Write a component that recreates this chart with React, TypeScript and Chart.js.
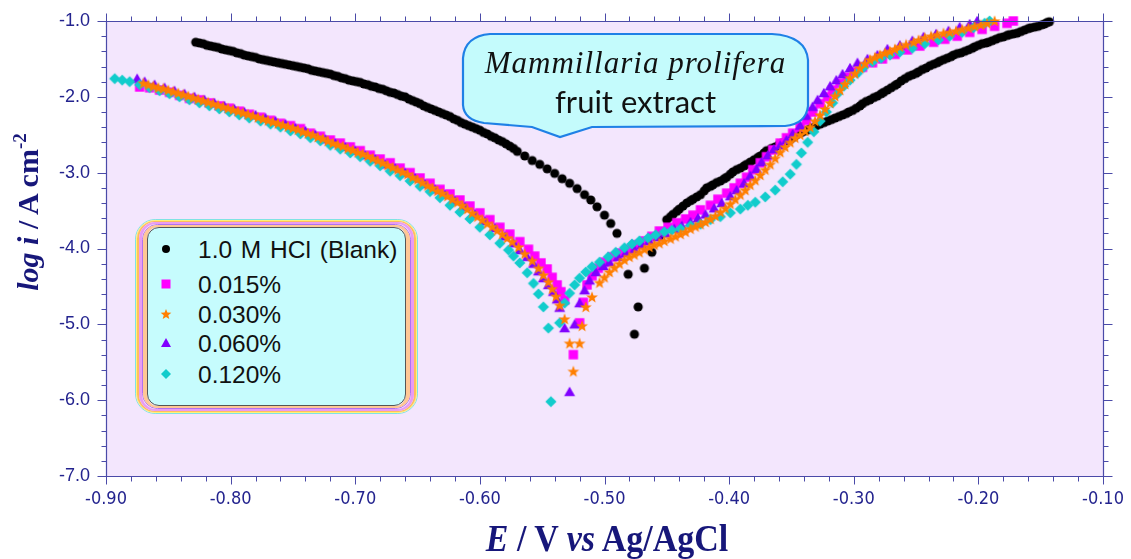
import React, { useEffect, useRef } from 'react';
import { Chart, registerables } from 'chart.js';

Chart.register(...registerables);

// ---------- axis / tick data ----------
const X_TICKS = [-0.9, -0.8, -0.7, -0.6, -0.5, -0.4, -0.3, -0.2, -0.1];
const Y_TICKS = [-7, -6, -5, -4, -3, -2, -1];
const X_RANGE = [-0.9, -0.1];
const Y_RANGE = [-7, -1];

const SERIES_LABELS = ['1.0 M HCl (Blank)', '0.015%', '0.030%', '0.060%', '0.120%'];
const SERIES_COLORS = ['#000000', '#ff00ff', '#ff7f00', '#8000ff', '#11cccc'];

// ---------- series: [E (V vs Ag/AgCl), log i (A cm-2)] ----------
const blank: [number, number][] = [
  [-0.828, -1.28], [-0.825, -1.29], [-0.822, -1.30], [-0.819, -1.32], [-0.816, -1.33], [-0.813, -1.34],
  [-0.810, -1.35], [-0.807, -1.37], [-0.804, -1.38], [-0.801, -1.39], [-0.798, -1.40], [-0.795, -1.42],
  [-0.792, -1.43], [-0.789, -1.45], [-0.786, -1.46], [-0.783, -1.47], [-0.780, -1.48], [-0.777, -1.50],
  [-0.774, -1.51], [-0.771, -1.52], [-0.768, -1.53], [-0.765, -1.54], [-0.762, -1.55], [-0.759, -1.56],
  [-0.756, -1.57], [-0.753, -1.58], [-0.750, -1.59], [-0.747, -1.60], [-0.744, -1.61], [-0.741, -1.62],
  [-0.738, -1.63], [-0.735, -1.65], [-0.732, -1.66], [-0.729, -1.67], [-0.726, -1.68], [-0.723, -1.69],
  [-0.720, -1.70], [-0.717, -1.72], [-0.714, -1.73], [-0.711, -1.75], [-0.708, -1.76], [-0.705, -1.78],
  [-0.702, -1.79], [-0.699, -1.80], [-0.696, -1.81], [-0.693, -1.83], [-0.690, -1.84], [-0.687, -1.86],
  [-0.684, -1.87], [-0.681, -1.89], [-0.678, -1.90], [-0.675, -1.92], [-0.672, -1.94], [-0.669, -1.95],
  [-0.666, -1.97], [-0.663, -1.99], [-0.660, -2.00], [-0.657, -2.03], [-0.654, -2.05], [-0.651, -2.07],
  [-0.648, -2.09], [-0.645, -2.12], [-0.642, -2.14], [-0.639, -2.16], [-0.636, -2.18], [-0.633, -2.20],
  [-0.630, -2.22], [-0.627, -2.24], [-0.624, -2.26], [-0.621, -2.29], [-0.618, -2.31], [-0.615, -2.34],
  [-0.612, -2.36], [-0.609, -2.38], [-0.606, -2.40], [-0.603, -2.42], [-0.600, -2.44], [-0.597, -2.47],
  [-0.594, -2.49], [-0.591, -2.52], [-0.588, -2.54], [-0.585, -2.57], [-0.582, -2.59], [-0.579, -2.62],
  [-0.576, -2.65], [-0.573, -2.68], [-0.570, -2.72], [-0.564, -2.78], [-0.558, -2.84], [-0.552, -2.89],
  [-0.546, -2.95], [-0.540, -3.01], [-0.534, -3.08], [-0.528, -3.14], [-0.522, -3.21], [-0.516, -3.29],
  [-0.511, -3.36], [-0.506, -3.45], [-0.500, -3.56], [-0.495, -3.67], [-0.490, -3.80], [-0.481, -4.34],
  [-0.476, -5.13], [-0.473, -4.77], [-0.468, -4.26], [-0.462, -4.05], [-0.456, -3.84], [-0.450, -3.62],
  [-0.447, -3.58], [-0.445, -3.55], [-0.442, -3.51], [-0.440, -3.48], [-0.437, -3.44], [-0.434, -3.40],
  [-0.431, -3.37], [-0.429, -3.35], [-0.426, -3.32], [-0.423, -3.29], [-0.420, -3.24], [-0.418, -3.20],
  [-0.415, -3.18], [-0.413, -3.16], [-0.410, -3.13], [-0.407, -3.11], [-0.404, -3.08], [-0.402, -3.06],
  [-0.399, -3.02], [-0.397, -2.99], [-0.394, -2.96], [-0.391, -2.94], [-0.388, -2.91], [-0.386, -2.89],
  [-0.383, -2.86], [-0.380, -2.83], [-0.377, -2.80], [-0.375, -2.78], [-0.372, -2.74], [-0.370, -2.71],
  [-0.366, -2.68], [-0.363, -2.66], [-0.360, -2.63], [-0.358, -2.61], [-0.354, -2.58], [-0.351, -2.56],
  [-0.348, -2.53], [-0.346, -2.50], [-0.342, -2.47], [-0.339, -2.45], [-0.336, -2.43], [-0.334, -2.41],
  [-0.330, -2.38], [-0.327, -2.36], [-0.324, -2.34], [-0.321, -2.32], [-0.318, -2.30], [-0.315, -2.28],
  [-0.312, -2.26], [-0.309, -2.24], [-0.306, -2.22], [-0.304, -2.20], [-0.301, -2.18], [-0.298, -2.15],
  [-0.295, -2.12], [-0.293, -2.09], [-0.290, -2.06], [-0.287, -2.04], [-0.284, -2.01], [-0.281, -1.99],
  [-0.278, -1.96], [-0.276, -1.94], [-0.273, -1.91], [-0.270, -1.88], [-0.267, -1.85], [-0.265, -1.83],
  [-0.262, -1.79], [-0.259, -1.76], [-0.256, -1.73], [-0.253, -1.71], [-0.250, -1.69], [-0.248, -1.67],
  [-0.245, -1.64], [-0.242, -1.62], [-0.239, -1.59], [-0.236, -1.57], [-0.233, -1.55], [-0.231, -1.53],
  [-0.228, -1.51], [-0.225, -1.49], [-0.222, -1.47], [-0.220, -1.45], [-0.217, -1.43], [-0.214, -1.42],
  [-0.211, -1.40], [-0.208, -1.38], [-0.205, -1.36], [-0.203, -1.34], [-0.200, -1.32], [-0.197, -1.30],
  [-0.194, -1.29], [-0.192, -1.28], [-0.189, -1.26], [-0.186, -1.24], [-0.183, -1.22], [-0.180, -1.21],
  [-0.177, -1.19], [-0.175, -1.18], [-0.172, -1.17], [-0.169, -1.16], [-0.166, -1.14], [-0.163, -1.12],
  [-0.160, -1.10], [-0.158, -1.09], [-0.155, -1.08], [-0.152, -1.07], [-0.149, -1.05], [-0.147, -1.04],
  [-0.145, -1.02], [-0.143, -1.01],
];

const c015: [number, number][] = [
  [-0.873, -1.87], [-0.865, -1.88], [-0.857, -1.91], [-0.849, -1.94], [-0.841, -1.98], [-0.833, -2.02],
  [-0.825, -2.04], [-0.817, -2.08], [-0.809, -2.12], [-0.801, -2.15], [-0.793, -2.19], [-0.785, -2.23],
  [-0.776, -2.27], [-0.768, -2.31], [-0.760, -2.35], [-0.752, -2.38], [-0.744, -2.42], [-0.736, -2.48],
  [-0.728, -2.52], [-0.720, -2.57], [-0.712, -2.61], [-0.704, -2.66], [-0.696, -2.71], [-0.688, -2.77],
  [-0.680, -2.82], [-0.672, -2.87], [-0.664, -2.94], [-0.656, -3.00], [-0.648, -3.07], [-0.640, -3.14],
  [-0.632, -3.22], [-0.624, -3.28], [-0.616, -3.36], [-0.608, -3.44], [-0.600, -3.53], [-0.592, -3.62],
  [-0.584, -3.72], [-0.576, -3.81], [-0.568, -3.91], [-0.561, -4.01], [-0.556, -4.10], [-0.551, -4.19],
  [-0.546, -4.27], [-0.542, -4.38], [-0.538, -4.48], [-0.535, -4.57], [-0.532, -4.68], [-0.525, -5.40],
  [-0.520, -4.98], [-0.517, -4.71], [-0.514, -4.48], [-0.510, -4.36], [-0.505, -4.26], [-0.500, -4.18],
  [-0.494, -4.11], [-0.488, -4.06], [-0.481, -4.01], [-0.475, -3.95], [-0.468, -3.90], [-0.462, -3.84],
  [-0.456, -3.77], [-0.449, -3.72], [-0.442, -3.66], [-0.435, -3.61], [-0.429, -3.56], [-0.423, -3.49],
  [-0.415, -3.43], [-0.409, -3.35], [-0.402, -3.27], [-0.396, -3.20], [-0.391, -3.14], [-0.386, -3.06],
  [-0.381, -2.96], [-0.375, -2.87], [-0.370, -2.79], [-0.365, -2.70], [-0.359, -2.61], [-0.354, -2.54],
  [-0.349, -2.48], [-0.343, -2.40], [-0.338, -2.31], [-0.333, -2.20], [-0.327, -2.09], [-0.321, -2.00],
  [-0.317, -1.91], [-0.311, -1.82], [-0.305, -1.74], [-0.299, -1.67], [-0.293, -1.61], [-0.285, -1.55],
  [-0.277, -1.50], [-0.267, -1.44], [-0.257, -1.38], [-0.247, -1.33], [-0.236, -1.28], [-0.227, -1.24],
  [-0.217, -1.20], [-0.207, -1.15], [-0.197, -1.11], [-0.187, -1.07], [-0.177, -1.03], [-0.172, -1.00],
];

const c030: [number, number][] = [
  [-0.870, -1.82], [-0.866, -1.84], [-0.862, -1.86], [-0.858, -1.88], [-0.854, -1.89], [-0.850, -1.91],
  [-0.846, -1.93], [-0.842, -1.95], [-0.838, -1.97], [-0.834, -1.99], [-0.830, -2.01], [-0.826, -2.03],
  [-0.822, -2.05], [-0.818, -2.07], [-0.814, -2.09], [-0.810, -2.11], [-0.806, -2.13], [-0.802, -2.15],
  [-0.798, -2.17], [-0.794, -2.19], [-0.790, -2.21], [-0.786, -2.23], [-0.782, -2.25], [-0.778, -2.27],
  [-0.774, -2.29], [-0.770, -2.31], [-0.766, -2.33], [-0.762, -2.35], [-0.758, -2.37], [-0.754, -2.39],
  [-0.750, -2.41], [-0.746, -2.43], [-0.742, -2.46], [-0.738, -2.48], [-0.734, -2.50], [-0.730, -2.53],
  [-0.726, -2.55], [-0.722, -2.58], [-0.718, -2.61], [-0.714, -2.63], [-0.710, -2.65], [-0.706, -2.68],
  [-0.702, -2.70], [-0.698, -2.73], [-0.694, -2.75], [-0.690, -2.78], [-0.686, -2.81], [-0.682, -2.84],
  [-0.678, -2.87], [-0.674, -2.90], [-0.670, -2.93], [-0.666, -2.96], [-0.662, -2.99], [-0.658, -3.02],
  [-0.654, -3.06], [-0.650, -3.09], [-0.646, -3.13], [-0.642, -3.17], [-0.638, -3.20], [-0.634, -3.24],
  [-0.630, -3.27], [-0.626, -3.31], [-0.622, -3.35], [-0.618, -3.39], [-0.614, -3.43], [-0.610, -3.48],
  [-0.606, -3.53], [-0.602, -3.58], [-0.598, -3.62], [-0.594, -3.67], [-0.590, -3.71], [-0.586, -3.76],
  [-0.582, -3.81], [-0.578, -3.86], [-0.574, -3.91], [-0.569, -3.98], [-0.564, -4.07], [-0.558, -4.16],
  [-0.553, -4.26], [-0.549, -4.35], [-0.545, -4.44], [-0.542, -4.53], [-0.539, -4.63], [-0.536, -4.75],
  [-0.532, -4.93], [-0.528, -5.25], [-0.525, -5.62], [-0.520, -5.25], [-0.518, -5.02], [-0.515, -4.77],
  [-0.510, -4.64], [-0.504, -4.45], [-0.500, -4.38], [-0.496, -4.31], [-0.492, -4.25], [-0.488, -4.20],
  [-0.484, -4.15], [-0.480, -4.11], [-0.476, -4.08], [-0.472, -4.05], [-0.468, -4.01], [-0.464, -3.98],
  [-0.460, -3.95], [-0.456, -3.93], [-0.452, -3.90], [-0.447, -3.87], [-0.443, -3.84], [-0.439, -3.81],
  [-0.435, -3.78], [-0.431, -3.74], [-0.427, -3.71], [-0.423, -3.68], [-0.419, -3.65], [-0.415, -3.61],
  [-0.411, -3.57], [-0.407, -3.52], [-0.403, -3.47], [-0.399, -3.41], [-0.395, -3.35], [-0.391, -3.29],
  [-0.387, -3.23], [-0.383, -3.16], [-0.379, -3.10], [-0.375, -3.03], [-0.371, -2.96], [-0.367, -2.89],
  [-0.363, -2.81], [-0.359, -2.73], [-0.355, -2.66], [-0.351, -2.60], [-0.347, -2.54], [-0.343, -2.50],
  [-0.339, -2.45], [-0.335, -2.40], [-0.331, -2.32], [-0.327, -2.24], [-0.323, -2.16], [-0.319, -2.08],
  [-0.315, -1.99], [-0.311, -1.91], [-0.307, -1.83], [-0.303, -1.75], [-0.299, -1.69], [-0.295, -1.62],
  [-0.291, -1.56], [-0.287, -1.51], [-0.283, -1.48], [-0.279, -1.45], [-0.275, -1.42], [-0.271, -1.40],
  [-0.267, -1.37], [-0.263, -1.34], [-0.258, -1.31], [-0.252, -1.28], [-0.248, -1.25], [-0.243, -1.22],
  [-0.238, -1.20], [-0.233, -1.18], [-0.228, -1.16], [-0.223, -1.15], [-0.218, -1.13], [-0.213, -1.11],
  [-0.208, -1.09], [-0.203, -1.07], [-0.198, -1.05], [-0.193, -1.03], [-0.187, -1.00],
];

const c060: [number, number][] = [
  [-0.875, -1.76], [-0.869, -1.80], [-0.861, -1.84], [-0.853, -1.88], [-0.845, -1.92], [-0.837, -1.96],
  [-0.829, -2.00], [-0.821, -2.04], [-0.813, -2.08], [-0.805, -2.12], [-0.797, -2.16], [-0.789, -2.20],
  [-0.780, -2.24], [-0.772, -2.28], [-0.764, -2.32], [-0.756, -2.36], [-0.748, -2.41], [-0.740, -2.45],
  [-0.732, -2.50], [-0.724, -2.56], [-0.716, -2.61], [-0.708, -2.66], [-0.700, -2.71], [-0.692, -2.77],
  [-0.684, -2.82], [-0.676, -2.89], [-0.668, -2.94], [-0.660, -3.00], [-0.652, -3.07], [-0.644, -3.15],
  [-0.636, -3.22], [-0.628, -3.29], [-0.620, -3.37], [-0.612, -3.45], [-0.604, -3.55], [-0.596, -3.64],
  [-0.588, -3.73], [-0.580, -3.84], [-0.573, -3.93], [-0.568, -4.02], [-0.562, -4.11], [-0.557, -4.20],
  [-0.553, -4.30], [-0.549, -4.39], [-0.545, -4.48], [-0.541, -4.57], [-0.538, -4.67], [-0.536, -4.78],
  [-0.532, -5.05], [-0.528, -5.89], [-0.524, -5.00], [-0.520, -4.72], [-0.516, -4.55], [-0.512, -4.42],
  [-0.507, -4.31], [-0.501, -4.23], [-0.496, -4.18], [-0.489, -4.11], [-0.483, -4.06], [-0.476, -4.01],
  [-0.470, -3.95], [-0.464, -3.90], [-0.457, -3.85], [-0.451, -3.80], [-0.444, -3.74], [-0.438, -3.70],
  [-0.431, -3.65], [-0.425, -3.60], [-0.419, -3.55], [-0.412, -3.47], [-0.406, -3.40], [-0.399, -3.31],
  [-0.394, -3.23], [-0.388, -3.14], [-0.383, -3.04], [-0.378, -2.95], [-0.374, -2.86], [-0.369, -2.77],
  [-0.364, -2.69], [-0.359, -2.64], [-0.354, -2.57], [-0.349, -2.49], [-0.343, -2.38], [-0.338, -2.25],
  [-0.333, -2.13], [-0.329, -2.04], [-0.324, -1.95], [-0.319, -1.86], [-0.314, -1.78], [-0.309, -1.70],
  [-0.303, -1.62], [-0.297, -1.55], [-0.289, -1.50], [-0.281, -1.45], [-0.273, -1.37], [-0.263, -1.32],
  [-0.253, -1.26], [-0.244, -1.21], [-0.234, -1.17], [-0.224, -1.13], [-0.215, -1.08], [-0.207, -1.04],
  [-0.201, -1.00],
];

const c120: [number, number][] = [
  [-0.893, -1.76], [-0.887, -1.78], [-0.881, -1.80], [-0.873, -1.84], [-0.865, -1.88], [-0.857, -1.92],
  [-0.849, -1.96], [-0.841, -2.00], [-0.833, -2.04], [-0.825, -2.08], [-0.817, -2.12], [-0.809, -2.16],
  [-0.801, -2.20], [-0.793, -2.24], [-0.785, -2.28], [-0.776, -2.32], [-0.768, -2.36], [-0.760, -2.40],
  [-0.752, -2.45], [-0.744, -2.49], [-0.736, -2.54], [-0.728, -2.58], [-0.720, -2.64], [-0.712, -2.69],
  [-0.704, -2.74], [-0.696, -2.79], [-0.688, -2.85], [-0.680, -2.91], [-0.672, -2.98], [-0.664, -3.04],
  [-0.656, -3.11], [-0.648, -3.18], [-0.640, -3.25], [-0.632, -3.33], [-0.624, -3.43], [-0.616, -3.52],
  [-0.608, -3.61], [-0.600, -3.72], [-0.592, -3.82], [-0.584, -3.93], [-0.577, -4.02], [-0.573, -4.10],
  [-0.568, -4.19], [-0.562, -4.32], [-0.557, -4.46], [-0.553, -4.60], [-0.549, -4.77], [-0.545, -5.05],
  [-0.543, -6.02], [-0.536, -4.98], [-0.532, -4.72], [-0.528, -4.59], [-0.524, -4.48], [-0.520, -4.39],
  [-0.515, -4.31], [-0.510, -4.24], [-0.504, -4.18], [-0.497, -4.11], [-0.491, -4.05], [-0.484, -3.99],
  [-0.478, -3.94], [-0.472, -3.90], [-0.465, -3.86], [-0.459, -3.82], [-0.452, -3.78], [-0.446, -3.76],
  [-0.439, -3.74], [-0.431, -3.70], [-0.423, -3.68], [-0.415, -3.62], [-0.407, -3.58], [-0.399, -3.53],
  [-0.391, -3.48], [-0.385, -3.43], [-0.379, -3.39], [-0.371, -3.32], [-0.363, -3.23], [-0.357, -3.12],
  [-0.351, -3.02], [-0.346, -2.89], [-0.342, -2.74], [-0.337, -2.60], [-0.332, -2.46], [-0.327, -2.32],
  [-0.322, -2.20], [-0.317, -2.08], [-0.313, -1.96], [-0.308, -1.86], [-0.303, -1.78], [-0.297, -1.69],
  [-0.292, -1.61], [-0.285, -1.54], [-0.278, -1.49], [-0.271, -1.45], [-0.263, -1.41], [-0.253, -1.36],
  [-0.243, -1.30], [-0.232, -1.25], [-0.223, -1.20], [-0.213, -1.15], [-0.204, -1.09], [-0.195, -1.03],
  [-0.191, -1.00],
];

// ---------- styling ----------
const PLOT_BG = '#f3e6fd';
const AXIS_COLOR = '#4a4aa8';
const TICK_LABEL_COLOR = '#23238e';
const TITLE_COLOR = '#17177a';

function starPath(g: CanvasRenderingContext2D | null, cx: number, cy: number, R: number, r: number) {
  const pts: [number, number][] = [];
  for (let i = 0; i < 10; i++) {
    const a = -Math.PI / 2 + (i * Math.PI) / 5;
    const rad = i % 2 === 0 ? R : r;
    pts.push([cx + rad * Math.cos(a), cy + rad * Math.sin(a)]);
  }
  if (g) {
    g.moveTo(pts[0][0], pts[0][1]);
    for (let i = 1; i < pts.length; i++) g.lineTo(pts[i][0], pts[i][1]);
    g.closePath();
  }
  return pts;
}

function markerCanvas(kind: string, color: string): HTMLCanvasElement {
  const s = 14;
  const c = document.createElement('canvas');
  c.width = s;
  c.height = s;
  const g = c.getContext('2d')!;
  g.fillStyle = color;
  const m = s / 2;
  g.beginPath();
  if (kind === 'circle') g.arc(m, m, 4.6, 0, Math.PI * 2);
  else if (kind === 'square') g.rect(m - 4.7, m - 4.7, 9.4, 9.4);
  else if (kind === 'star') starPath(g, m, m + 0.5, 6.2, 2.6);
  else if (kind === 'triangle') {
    g.moveTo(m, m - 5.3);
    g.lineTo(m + 5.5, m + 4.3);
    g.lineTo(m - 5.5, m + 4.3);
    g.closePath();
  } else {
    g.moveTo(m, m - 5.6);
    g.lineTo(m + 5.6, m);
    g.lineTo(m, m + 5.6);
    g.lineTo(m - 5.6, m);
    g.closePath();
  }
  g.fill();
  return c;
}

const MARKER_KINDS = ['circle', 'square', 'star', 'triangle', 'diamond'];
const SERIES_DATA = [blank, c015, c030, c060, c120];
const DRAW_ORDER = [5, 4, 1, 3, 2]; // lower = drawn on top

const framePlugin = {
  id: 'frame',
  beforeDatasetsDraw(chart: any) {
    const { ctx, chartArea: a } = chart;
    ctx.save();
    ctx.fillStyle = PLOT_BG;
    ctx.fillRect(a.left, a.top, a.right - a.left, a.bottom - a.top);
    ctx.restore();
  },
  afterDatasetsDraw(chart: any) {
    const { ctx, chartArea: a, scales } = chart;
    const xs = scales.x;
    const ys = scales.y;
    const L = Math.round(a.left) + 0.5;
    const R = Math.round(a.right) + 0.5;
    const T = Math.round(a.top) + 0.5;
    const B = Math.round(a.bottom) + 0.5;
    ctx.save();
    ctx.strokeStyle = AXIS_COLOR;
    ctx.lineWidth = 1.2;
    ctx.beginPath();
    ctx.rect(L, T, R - L, B - T);
    ctx.stroke();
    ctx.lineWidth = 1;
    ctx.beginPath();
    for (let i = 0; i <= 40; i++) {
      const v = X_RANGE[0] + i * 0.02;
      const len = i % 5 === 0 ? 8 : 5;
      const px = Math.round(xs.getPixelForValue(v)) + 0.5;
      ctx.moveTo(px, B);
      ctx.lineTo(px, B + len);
      ctx.moveTo(px, T);
      ctx.lineTo(px, T - len);
    }
    for (let i = 0; i <= 30; i++) {
      const v = Y_RANGE[0] + i * 0.2;
      const len = i % 5 === 0 ? 9 : 5;
      const py = Math.round(ys.getPixelForValue(v)) + 0.5;
      ctx.moveTo(L, py);
      ctx.lineTo(L - len, py);
      ctx.moveTo(R, py);
      ctx.lineTo(R + len, py);
    }
    ctx.stroke();
    ctx.restore();
  },
};

const zeroPadding = (s: any) => {
  s.paddingTop = 0;
  s.paddingBottom = 0;
  s.paddingLeft = 0;
  s.paddingRight = 0;
};

const legendRows = [249, 284, 314, 343, 374];

export default function App() {
  const ref = useRef<HTMLCanvasElement>(null);

  useEffect(() => {
    const canvas = ref.current!;
    const datasets = SERIES_DATA.map((d, i) => ({
      label: SERIES_LABELS[i],
      data: d.map(([x, y]) => ({ x, y })),
      pointStyle: markerCanvas(MARKER_KINDS[i], SERIES_COLORS[i]) as any,
      pointRadius: 5,
      backgroundColor: SERIES_COLORS[i],
      borderColor: SERIES_COLORS[i],
      showLine: false,
      order: DRAW_ORDER[i],
      clip: false as any,
    }));
    const chart = new Chart(canvas, {
      type: 'scatter',
      data: { datasets },
      options: {
        animation: false,
        responsive: false,
        maintainAspectRatio: false,
        events: [],
        layout: { padding: { left: 0, right: 28, top: 21, bottom: 0 } },
        plugins: { legend: { display: false }, tooltip: { enabled: false } },
        scales: {
          x: {
            type: 'linear',
            min: X_RANGE[0],
            max: X_RANGE[1],
            afterFit: (s: any) => {
              s.height = 83;
              zeroPadding(s);
            },
            afterBuildTicks: (s: any) => {
              s.ticks = X_TICKS.map((value) => ({ value }));
            },
            grid: { display: false, drawTicks: false },
            border: { display: false },
            ticks: {
              padding: 13,
              color: TICK_LABEL_COLOR,
              maxRotation: 0,
              font: { family: "'Liberation Sans Narrow', 'DejaVu Sans Condensed', 'Liberation Sans', Arial, sans-serif", size: 18 },
              callback: (v: any) => Number(v).toFixed(2),
            },
          },
          y: {
            type: 'linear',
            min: Y_RANGE[0],
            max: Y_RANGE[1],
            afterFit: (s: any) => {
              s.width = 106;
              zeroPadding(s);
            },
            afterBuildTicks: (s: any) => {
              s.ticks = Y_TICKS.map((value) => ({ value }));
            },
            grid: { display: false, drawTicks: false },
            border: { display: false },
            ticks: {
              padding: 16,
              color: TICK_LABEL_COLOR,
              font: { family: "'Liberation Sans', Arial, sans-serif", size: 18 },
              callback: (v: any) => Number(v).toFixed(1),
            },
          },
        },
      },
      plugins: [framePlugin],
    });
    return () => chart.destroy();
  }, []);

  const ringColors = ['#7fe3e3', '#fff27a', '#ffbe5c', '#e99cf2', '#b072f0', '#ffc795'];
  const ringLR = [1.5, 1.5, 2, 3, 1.5, 4];
  const ringTB = [1, 1, 1.5, 2.5, 1.5, 2.5];

  let legendBox: any = (
    <div
      style={{
        width: '100%',
        height: '100%',
        boxSizing: 'border-box',
        background: '#c6fcfd',
        border: '1.5px solid #555555',
        borderRadius: 12,
      }}
    />
  );
  for (let i = ringColors.length - 1; i >= 0; i--) {
    legendBox = (
      <div
        style={{
          width: '100%',
          height: '100%',
          boxSizing: 'border-box',
          borderStyle: 'solid',
          borderColor: ringColors[i],
          borderWidth: `${ringTB[i]}px ${ringLR[i]}px`,
          borderRadius: 13 + (ringColors.length - i) * 1.2,
        }}
      >
        {legendBox}
      </div>
    );
  }

  const sx = 166;
  const triTop = legendRows[3] - 5;

  return (
    <div style={{ position: 'absolute', left: 0, top: 0, width: 1131, height: 559, background: '#ffffff', overflow: 'hidden' }}>
      <canvas ref={ref} width={1131} height={559} style={{ position: 'absolute', left: 0, top: 0, width: 1131, height: 559 }} />

      {/* y axis title */}
      <div
        style={{
          position: 'absolute',
          left: 28 - 130,
          top: 212 - 15,
          width: 260,
          height: 30,
          lineHeight: '30px',
          textAlign: 'center',
          transform: 'rotate(-90deg)',
          fontFamily: "'Liberation Serif', 'Times New Roman', serif",
          fontWeight: 'bold',
          fontSize: 30,
          color: TITLE_COLOR,
          whiteSpace: 'nowrap',
        }}
      >
        <i>log i</i> / A cm<span style={{ fontSize: 19, position: 'relative', top: -12 }}>-2</span>
      </div>

      {/* x axis title */}
      <div
        style={{
          position: 'absolute',
          left: 607 - 200,
          top: 522,
          width: 400,
          height: 34,
          lineHeight: '34px',
          textAlign: 'center',
          transform: 'scaleY(1.12)',
          fontFamily: "'Liberation Serif', 'Times New Roman', serif",
          fontWeight: 'bold',
          fontSize: 34,
          color: TITLE_COLOR,
          whiteSpace: 'nowrap',
        }}
      >
        <i>E</i> / V <i>vs</i> Ag/AgCl
      </div>

      {/* legend box */}
      <div style={{ position: 'absolute', left: 135, top: 219, width: 283, height: 195 }}>{legendBox}</div>

      {/* callout + legend markers */}
      <svg width={1131} height={559} style={{ position: 'absolute', left: 0, top: 0 }}>
        <path
          d="M 490 34 L 772 34 Q 806 36 808 60 L 808 106 Q 806 124 785 126 L 592 127 L 560 137 L 532 127 L 484 123 Q 464 120 463 105 L 463 58 Q 465 36 490 34 Z"
          fill="#c4fbfc"
          stroke="#1f80e6"
          strokeWidth={2.2}
        />
        <circle cx={sx} cy={legendRows[0]} r={4} fill={SERIES_COLORS[0]} />
        <rect x={sx - 4.5} y={legendRows[1] - 4.5} width={9} height={9} fill={SERIES_COLORS[1]} />
        <polygon points={starPath(null, sx, legendRows[2] + 0.5, 5.6, 2.4).map((p) => p.join(',')).join(' ')} fill={SERIES_COLORS[2]} />
        <polygon points={`${sx},${triTop} ${sx + 5},${triTop + 9} ${sx - 5},${triTop + 9}`} fill={SERIES_COLORS[3]} />
        <polygon
          points={`${sx},${legendRows[4] - 5} ${sx + 5},${legendRows[4]} ${sx},${legendRows[4] + 5} ${sx - 5},${legendRows[4]}`}
          fill={SERIES_COLORS[4]}
        />
      </svg>

      {/* legend labels */}
      {SERIES_LABELS.map((t, i) => (
        <div
          key={t}
          style={{
            position: 'absolute',
            left: 198,
            top: legendRows[i] - 12,
            height: 25,
            lineHeight: '25px',
            fontFamily: "'Liberation Sans', Arial, sans-serif",
            fontSize: 24.5,
            color: '#111111',
            whiteSpace: 'nowrap',
            wordSpacing: i === 0 ? 2 : 0,
          }}
        >
          {t}
        </div>
      ))}

      {/* callout text */}
      <div
        style={{
          position: 'absolute',
          left: 463,
          width: 345,
          top: 47,
          height: 31,
          lineHeight: '31px',
          textAlign: 'center',
          fontFamily: "'Liberation Serif', 'Times New Roman', serif",
          fontStyle: 'italic',
          fontSize: 31,
          letterSpacing: 1,
          color: '#111111',
          whiteSpace: 'nowrap',
        }}
      >
        Mammillaria prolifera
      </div>
      <div
        style={{
          position: 'absolute',
          left: 463,
          width: 345,
          top: 86,
          height: 31,
          lineHeight: '31px',
          textAlign: 'center',
          fontFamily: "Lato, 'Open Sans', sans-serif",
          fontSize: 31,
          color: '#111111',
          whiteSpace: 'nowrap',
        }}
      >
        fruit extract
      </div>
    </div>
  );
}
